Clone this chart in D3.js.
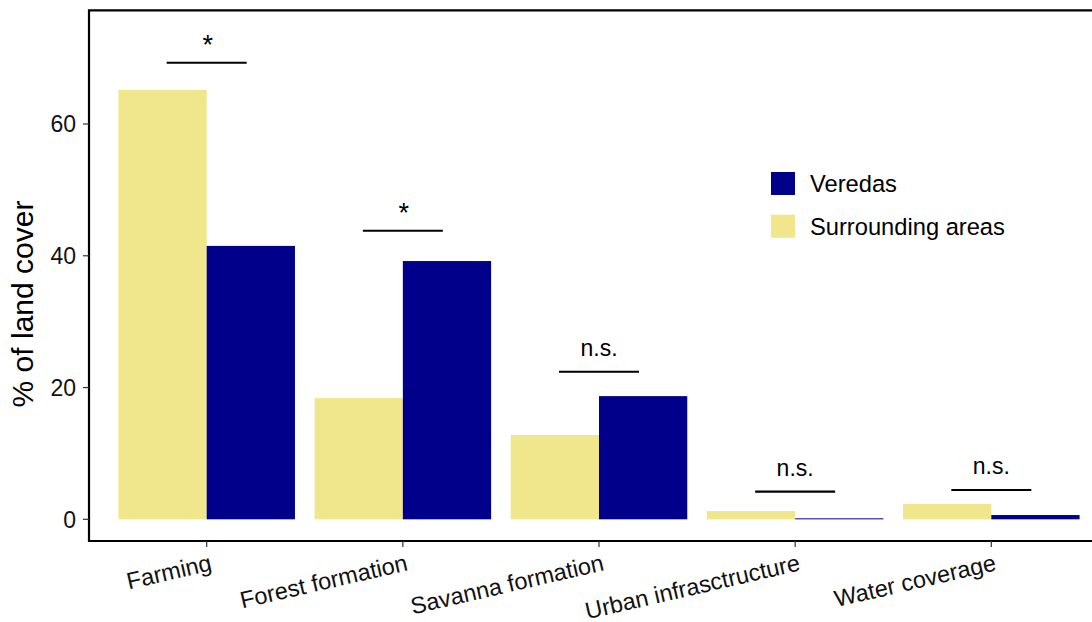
<!DOCTYPE html>
<html>
<head>
<meta charset="utf-8">
<script src="https://cdn.jsdelivr.net/npm/d3@7"></script>
<style>
  html, body { margin: 0; padding: 0; background: #fff; }
  svg { display: block; font-family: "Liberation Sans", Arial, sans-serif; }
</style>
</head>
<body>
<svg id="chart" width="1092" height="622"></svg>
<script>
// Land cover categories and mean % cover per group
const categories = ["Farming", "Forest formation", "Savanna formation", "Urban infrasctructure", "Water coverage"];
const groups = ["Surrounding areas", "Veredas"];
const surroundingValues = [65.2, 18.4, 12.8, 1.25, 2.35];
const veredasValues = [41.5, 39.2, 18.7, 0.15, 0.65];
const yTicks = [0, 20, 40, 60];
// Significance brackets: level of the bar (in % units) and its label
const sigLevels = [69.3, 43.8, 22.4, 4.2, 4.45];
const sigLabels = ["*", "*", "n.s.", "n.s.", "n.s."];

const colors = { "Surrounding areas": "#F0E68C", "Veredas": "#00008B" };

const svg = d3.select("#chart");
const panelLeft = 89, panelRight = 1109, panelTop = 10.3, panelBottom = 541;

const x = d3.scaleBand().domain(categories).range([panelLeft, panelRight])
  .paddingInner(0.1).paddingOuter(0.15);
const xSub = d3.scaleBand().domain(groups).range([0, x.bandwidth()]).padding(0);
const y = d3.scaleLinear().domain([-3.29, 77.26]).range([panelBottom, panelTop]);

const rows = categories.map((c, i) => ({
  category: c,
  values: [
    { group: "Surrounding areas", value: surroundingValues[i] },
    { group: "Veredas", value: veredasValues[i] }
  ]
}));

// Bars
const g = svg.append("g");
g.selectAll("g.cat").data(rows).join("g")
  .attr("class", "cat")
  .attr("transform", d => `translate(${x(d.category)},0)`)
  .selectAll("rect").data(d => d.values).join("rect")
  .attr("x", d => xSub(d.group))
  .attr("width", xSub.bandwidth())
  .attr("y", d => y(d.value))
  .attr("height", d => y(0) - y(d.value))
  .attr("fill", d => colors[d.group]);

// Panel outline (top edge runs off the right side)
svg.append("path")
  .attr("d", `M${panelRight},${panelTop}H${panelLeft}V${panelBottom}H${panelRight}`)
  .attr("fill", "none").attr("stroke", "#000").attr("stroke-width", 2.2);

// Y axis ticks and labels
const yAxis = svg.append("g");
yAxis.selectAll("line").data(yTicks).join("line")
  .attr("x1", panelLeft - 6).attr("x2", panelLeft)
  .attr("y1", d => y(d)).attr("y2", d => y(d))
  .attr("stroke", "#333").attr("stroke-width", 1.2);
yAxis.selectAll("text").data(yTicks).join("text")
  .attr("x", panelLeft - 13).attr("y", d => y(d))
  .attr("dy", "0.36em")
  .attr("text-anchor", "end")
  .attr("font-size", 23).attr("fill", "#111")
  .text(d => d);

// X axis ticks and rotated labels
const xAxis = svg.append("g");
xAxis.selectAll("line").data(categories).join("line")
  .attr("x1", d => x(d) + x.bandwidth() / 2).attr("x2", d => x(d) + x.bandwidth() / 2)
  .attr("y1", panelBottom).attr("y2", panelBottom + 6)
  .attr("stroke", "#333").attr("stroke-width", 1.2);
xAxis.selectAll("text").data(categories).join("text")
  .attr("transform", d => `translate(${x(d) + x.bandwidth() / 2 + 6},${panelBottom + 29}) rotate(-13)`)
  .attr("text-anchor", "end")
  .attr("font-size", 23.5).attr("fill", "#111")
  .text(d => d);

// Y axis title
svg.append("text")
  .attr("transform", "translate(33,304) rotate(-90)")
  .attr("text-anchor", "middle")
  .attr("font-size", 30).attr("fill", "#000")
  .text("% of land cover");

// Significance brackets
const sig = svg.append("g");
categories.forEach((c, i) => {
  const cx = x(c) + x.bandwidth() / 2;
  const ly = y(sigLevels[i]);
  sig.append("line")
    .attr("x1", cx - 40).attr("x2", cx + 40)
    .attr("y1", ly).attr("y2", ly)
    .attr("stroke", "#000").attr("stroke-width", 2.2);
  const star = sigLabels[i] === "*";
  sig.append("text")
    .attr("x", cx + (star ? 1 : 0))
    .attr("y", ly - (star ? 9 : 16))
    .attr("text-anchor", "middle")
    .attr("font-size", star ? 27 : 23).attr("fill", "#000")
    .text(sigLabels[i]);
});

// Legend
const legendOrder = ["Veredas", "Surrounding areas"];
const legend = svg.append("g").attr("transform", "translate(771,172)");
const item = legend.selectAll("g").data(legendOrder).join("g")
  .attr("transform", (d, i) => `translate(0,${i * 42.7})`);
item.append("rect").attr("width", 24).attr("height", 23)
  .attr("fill", d => colors[d]);
item.append("text").attr("x", 39).attr("y", 11.5).attr("dy", "0.36em")
  .attr("font-size", 23.7).attr("fill", "#000")
  .text(d => d);
</script>
</body>
</html>
